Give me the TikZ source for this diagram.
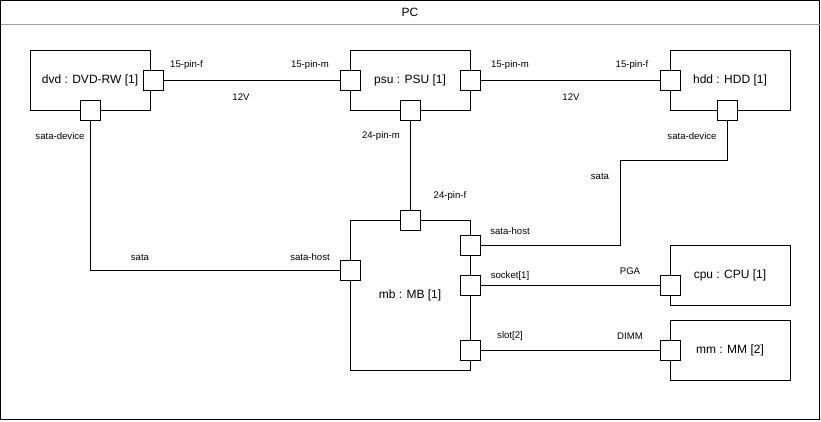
\documentclass[tikz,border=0pt]{standalone}
\usepackage{fontspec}
\setmainfont{Liberation Sans}
\definecolor{hdrline}{HTML}{A0A0A0}
\tikzset{
  part/.style={draw=black, line width=1pt, fill=white, rectangle, minimum width=120pt, minimum height=60pt, inner sep=0pt, font=\fontsize{12}{14}\selectfont},
  port/.style={draw=black, line width=1pt, fill=white, rectangle, minimum width=20pt, minimum height=20pt, inner sep=0pt},
  conn/.style={draw=black, line width=1pt},
  lbl/.style={inner sep=0pt, font=\fontsize{9.6}{11}\selectfont},
  title/.style={inner sep=0pt, font=\fontsize{12}{14}\selectfont}
}
\begin{document}
\begin{tikzpicture}[x=1pt, y=-1pt]
\useasboundingbox (0,0) rectangle (821,421);
% outer frame
\draw[line width=1pt] (0.5,0.5) rectangle (819.5,419.5);
\draw[hdrline, line width=1pt] (0.5,24) -- (819.5,24);
\node[title] (pc) at (410,12) {PC};

% parts
\node[part] (dvd) at (90,80) {dvd : DVD-RW [1]};
\node[part] (psu) at (410,80) {psu : PSU [1]};
\node[part] (hdd) at (730,80) {hdd : HDD [1]};
\node[part, minimum height=150pt] (mb) at (410,295) {};
\node[font=\fontsize{12}{14}\selectfont, inner sep=0pt] (mbt) at (410,295) {mb : MB [1]};
\node[part] (cpu) at (730,275) {cpu : CPU [1]};
\node[part] (mm) at (730,350) {mm : MM [2]};

% ports
\node[port] (dvdR) at (153,80) {};
\node[port] (dvdB) at (90,110) {};
\node[port] (psuL) at (350,80) {};
\node[port] (psuR) at (470,80) {};
\node[port] (psuB) at (410,110) {};
\node[port] (hddL) at (670,80) {};
\node[port] (hddB) at (727,110) {};
\node[port] (mbT) at (410,220) {};
\node[port] (mbL) at (350,270) {};
\node[port] (mbS) at (470,245) {};
\node[port] (mbK) at (470,285) {};
\node[port] (mbD) at (470,350) {};
\node[port] (cpuL) at (670,285) {};
\node[port] (mmL) at (670,350) {};

% connectors
\coordinate (sbend) at (620,160);
\draw[conn] (dvdR.east) -- (psuL.west);
\draw[conn] (psuR.east) -- (hddL.west);
\draw[conn] (dvdB.south) |- (mbL.west);
\draw[conn] (psuB.south) -- (mbT.north);
\draw[conn] (mbS.east) -| (sbend) -| (hddB.south);
\draw[conn] (mbK.east) -- (cpuL.west);
\draw[conn] (mbD.east) -- (mmL.west);

% labels
\node[lbl] (l1) at (186.5,65) {15-pin-f};
\node[lbl] (l2) at (310,65) {15-pin-m};
\node[lbl] (l3) at (241,97) {12V};
\node[lbl] (l4) at (510,65) {15-pin-m};
\node[lbl] (l5) at (632,65) {15-pin-f};
\node[lbl] (l6) at (571,97) {12V};
\node[lbl] (l7) at (60,136) {sata-device};
\node[lbl] (l8) at (381,136) {24-pin-m};
\node[lbl] (l9) at (692,136) {sata-device};
\node[lbl] (l10) at (450,196) {24-pin-f};
\node[lbl] (l11) at (600,176) {sata};
\node[lbl] (l12) at (140,257) {sata};
\node[lbl] (l13) at (310,257) {sata-host};
\node[lbl] (l14) at (510,231) {sata-host};
\node[lbl] (l15) at (510,276) {socket[1]};
\node[lbl] (l16) at (630,271) {PGA};
\node[lbl] (l17) at (510,336) {slot[2]};
\node[lbl] (l18) at (630,336) {DIMM};
\end{tikzpicture}
\end{document}
